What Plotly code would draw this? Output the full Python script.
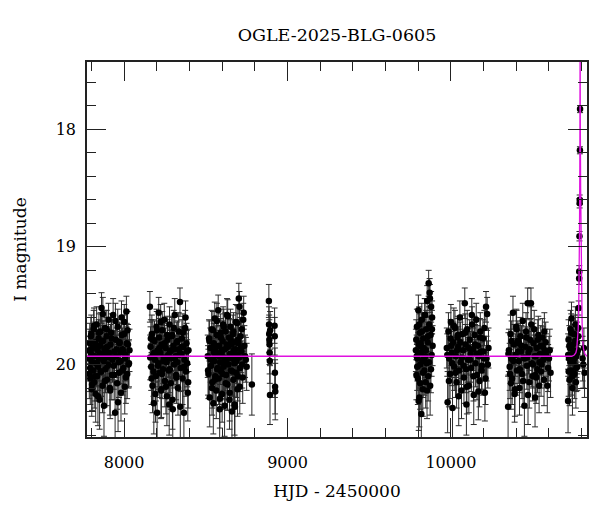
import plotly.graph_objects as go

# ---------------- data ----------------
t_2017 = [7784,7787,7790,7793,7796,7799,7802,7805,7808,7811,
          7814,7817,7820,7823,7826,7829,7832,7835,7838,7841,
          7844,7847,7850,7853,7856,7859,7862,7865,7868,7871,
          7874,7877,7880,7883,7886,7889,7892,7895,7898,7901,
          7905,7909,7913,7917,7921,7925,7929,7933,7937,7941,
          7945,7949,7953,7957,7961,7965,7969,7973,7977,7981,
          7986,7991,7996,8001,8006,8011,8016,8021,8027,8033,
          7786,7792,7797,7804,7810,7816,7822,7828,7834,7840,
          7846,7852,7858,7864,7870,7876,7882,7888,7894,7900,
          7907,7915,7923,7931,7939,7947,7955,7963,7971,7979,
          7984,7989,7994,7999,8004,8009,8014,8019,8024,8030]
mag_2017 = [19.95,20.08,19.82,20.12,19.90,19.74,20.21,19.98,19.86,20.05,
            19.70,20.15,19.93,19.81,20.25,19.99,19.66,20.10,19.88,20.02,
            19.78,19.95,20.30,19.84,19.72,20.06,19.52,19.91,20.18,19.80,
            19.97,20.35,19.87,19.69,20.04,19.92,19.76,20.13,19.85,20.00,
            19.62,19.94,20.20,19.83,19.73,20.09,19.96,19.58,20.01,19.89,
            20.41,19.79,19.93,20.16,19.68,19.98,20.07,19.81,19.90,20.24,
            19.75,19.87,20.03,19.64,19.95,20.11,19.82,19.71,20.00,19.88,
            19.88,20.03,19.76,20.17,19.93,19.67,20.10,19.84,19.99,20.27,
            19.73,19.91,20.06,19.80,19.57,19.96,20.14,19.86,19.70,20.01,
            19.90,20.22,19.78,19.94,20.09,19.63,19.87,20.32,19.82,19.97,
            19.60,20.05,19.89,19.74,20.19,19.92,19.55,20.08,19.83,19.99]
err_2017 = [0.19,0.21,0.17,0.22,0.18,0.16,0.23,0.20,0.17,0.21,
            0.16,0.22,0.19,0.17,0.24,0.19,0.15,0.21,0.18,0.20,
            0.16,0.19,0.25,0.17,0.16,0.21,0.13,0.18,0.23,0.17,
            0.19,0.26,0.18,0.15,0.20,0.18,0.16,0.22,0.17,0.20,
            0.14,0.19,0.23,0.17,0.16,0.21,0.19,0.14,0.20,0.18,
            0.27,0.17,0.18,0.22,0.15,0.19,0.21,0.17,0.18,0.24,
            0.16,0.18,0.20,0.15,0.19,0.22,0.17,0.16,0.20,0.18,
            0.18,0.20,0.16,0.22,0.19,0.15,0.21,0.17,0.20,0.25,
            0.16,0.18,0.21,0.17,0.14,0.19,0.22,0.18,0.16,0.20,
            0.18,0.24,0.16,0.19,0.21,0.15,0.18,0.25,0.17,0.19,
            0.14,0.21,0.18,0.16,0.23,0.18,0.13,0.21,0.17,0.20]

t_2018 = [8158,8162,8166,8170,8174,8178,8182,8186,8190,8194,
          8198,8202,8206,8210,8214,8218,8222,8226,8230,8234,
          8238,8242,8246,8250,8254,8258,8262,8266,8270,8274,
          8278,8282,8286,8290,8294,8298,8302,8306,8310,8314,
          8318,8322,8326,8330,8334,8338,8342,8346,8350,8354,
          8358,8362,8366,8370,8374,8378,8382,8386,8390,8394,
          8160,8168,8176,8184,8192,8200,8208,8216,8224,8232,
          8240,8248,8256,8264,8272,8280,8288,8296,8304,8312,
          8320,8328,8336,8344,8352,8360,8368,8376,8384,8392,
          8164,8180,8196,8212,8228,8244,8260,8276,8292,8308]
mag_2018 = [19.51,19.85,20.02,19.74,20.18,19.92,20.33,19.80,19.96,20.10,
            19.68,20.41,19.88,19.99,19.77,20.07,19.90,20.22,19.83,19.71,
            20.04,19.94,19.62,20.14,19.86,19.97,20.27,19.79,19.92,20.05,
            19.66,19.89,20.16,19.95,19.75,20.38,19.84,20.00,19.58,19.93,
            20.09,19.81,19.98,20.20,19.72,19.87,19.47,20.03,19.91,19.78,
            20.12,19.85,20.41,19.96,19.69,20.06,19.82,19.99,20.24,19.88,
            19.94,20.12,19.79,19.90,20.25,19.71,20.01,19.86,19.64,20.08,
            19.97,19.82,20.19,19.75,19.93,20.04,19.88,20.30,19.69,19.95,
            20.11,19.80,19.92,20.36,19.85,19.73,20.02,19.60,19.89,20.15,
            19.78,20.06,19.91,19.56,20.21,19.84,19.98,20.34,19.76,19.87]
err_2018 = [0.13,0.17,0.20,0.16,0.23,0.18,0.26,0.17,0.19,0.21,
            0.15,0.27,0.18,0.20,0.16,0.21,0.18,0.24,0.17,0.16,
            0.20,0.19,0.14,0.22,0.17,0.19,0.25,0.17,0.18,0.21,
            0.15,0.18,0.22,0.19,0.16,0.26,0.17,0.20,0.14,0.18,
            0.21,0.17,0.19,0.23,0.16,0.18,0.12,0.20,0.18,0.16,
            0.22,0.17,0.27,0.19,0.15,0.21,0.17,0.20,0.24,0.18,
            0.19,0.22,0.17,0.18,0.24,0.16,0.20,0.17,0.15,0.21,
            0.19,0.17,0.23,0.16,0.18,0.20,0.18,0.25,0.15,0.19,
            0.22,0.17,0.18,0.26,0.17,0.16,0.20,0.14,0.18,0.22,
            0.16,0.21,0.18,0.13,0.24,0.17,0.19,0.26,0.16,0.18]

t_2019 = [8512,8516,8520,8524,8528,8532,8536,8540,8543,8546,
          8549,8552,8555,8558,8561,8564,8567,8570,8573,8576,
          8579,8582,8585,8588,8591,8594,8597,8600,8603,8606,
          8609,8612,8615,8618,8621,8624,8627,8630,8633,8636,
          8639,8642,8645,8648,8651,8654,8657,8660,8663,8666,
          8669,8672,8675,8678,8681,8684,8687,8690,8694,8698,
          8702,8706,8710,8715,8720,8726,8732,8740,8750,8782,
          8514,8522,8530,8538,8544,8550,8556,8562,8568,8574,
          8580,8586,8592,8598,8604,8610,8616,8622,8628,8634,
          8640,8646,8652,8658,8664,8670,8676,8682,8688,8692,
          8696,8700,8704,8708,8712,8717,8723,8729,8736,8745]
mag_2019 = [19.93,20.08,19.78,20.28,19.86,20.01,19.70,20.15,19.95,20.33,
            19.82,19.97,19.61,20.10,19.89,20.22,19.75,20.04,19.92,19.54,
            20.12,19.84,20.38,19.98,19.73,20.06,19.90,20.25,19.80,19.66,
            20.02,19.94,20.35,19.87,19.72,20.09,19.96,19.58,20.17,19.85,
            20.00,19.77,20.30,19.91,19.68,20.05,19.83,20.40,19.95,19.74,
            20.13,19.88,19.99,20.36,19.81,19.64,20.07,19.92,20.21,19.79,
            19.44,19.51,20.03,19.86,19.70,20.11,19.56,19.93,20.02,20.17,
            20.05,19.80,19.96,20.20,19.71,19.90,20.13,19.85,19.63,20.03,
            19.93,20.29,19.77,19.88,20.08,19.68,19.98,20.16,19.83,19.59,
            19.95,20.24,19.79,19.91,20.06,19.72,20.34,19.87,19.97,19.65,
            20.10,19.82,19.94,20.19,19.76,19.89,20.00,19.62,19.84,19.96]
err_2019 = [0.18,0.21,0.16,0.25,0.17,0.20,0.16,0.22,0.19,0.26,
            0.17,0.19,0.14,0.21,0.18,0.24,0.16,0.20,0.18,0.13,
            0.22,0.17,0.26,0.19,0.16,0.21,0.18,0.24,0.17,0.15,
            0.20,0.19,0.26,0.18,0.16,0.21,0.19,0.14,0.22,0.17,
            0.20,0.16,0.25,0.18,0.15,0.21,0.17,0.27,0.19,0.16,
            0.22,0.18,0.20,0.26,0.17,0.15,0.21,0.18,0.23,0.17,
            0.13,0.13,0.20,0.17,0.16,0.22,0.14,0.18,0.20,0.26,
            0.21,0.17,0.19,0.23,0.16,0.18,0.22,0.17,0.15,0.20,
            0.18,0.25,0.16,0.18,0.21,0.15,0.19,0.22,0.17,0.14,
            0.19,0.24,0.17,0.18,0.21,0.16,0.26,0.18,0.19,0.15,
            0.21,0.17,0.19,0.23,0.16,0.18,0.20,0.14,0.17,0.19]

t_2020 = [8886,8887,8888,8889,8890,8891,8892,8893,8894,8921,8922,8923,8924,8925]
mag_2020 = [19.46,19.66,19.74,19.79,19.83,19.90,19.97,20.26,19.71,19.67,19.76,20.07,20.19,20.23]
err_2020 = [0.14,0.15,0.16,0.17,0.17,0.18,0.19,0.25,0.16,0.15,0.16,0.21,0.23,0.24]

t_2022 = [9786,9789,9792,9795,9798,9801,9804,9807,9810,9813,
          9816,9819,9822,9825,9828,9831,9834,9837,9840,9843,
          9846,9849,9852,9855,9858,9861,9864,9867,9870,9873,
          9876,9879,9882,9885,9888,
          9788,9794,9800,9806,9812,9818,9824,9830,9836,9842,
          9848,9854,9860,9866,9872,9878,9884,9791,9803,9815]
mag_2022 = [19.88,20.09,19.68,19.95,20.12,19.54,19.83,20.28,19.73,20.00,
            19.90,20.42,19.62,19.97,20.21,19.78,19.86,20.05,19.58,19.93,
            20.15,19.70,19.99,19.46,19.81,20.10,19.31,19.66,19.39,20.18,
            19.75,19.51,19.92,19.60,19.84,
            19.79,20.02,19.91,19.66,20.16,19.85,19.72,20.07,19.95,19.58,
            19.88,20.22,19.76,19.98,19.44,20.04,19.70,19.93,20.31,19.82]
err_2022 = [0.18,0.21,0.15,0.19,0.22,0.13,0.17,0.25,0.16,0.20,
            0.18,0.27,0.14,0.19,0.23,0.16,0.17,0.21,0.14,0.18,
            0.22,0.16,0.20,0.13,0.17,0.21,0.11,0.15,0.12,0.25,
            0.16,0.13,0.18,0.14,0.17,
            0.17,0.20,0.18,0.15,0.22,0.17,0.16,0.21,0.19,0.14,
            0.18,0.24,0.16,0.19,0.12,0.20,0.16,0.18,0.25,0.17]

t_2023 = [9975,9980,9985,9990,9995,10000,10005,10010,10015,10020,
          10025,10030,10035,10040,10045,10050,10055,10060,10065,10070,
          10075,10080,10085,10090,10095,10100,10105,10110,10115,10120,
          10125,10130,10135,10140,10145,10150,10155,10160,10165,10170,
          10175,10180,10185,10190,10196,10202,10208,10215,10222,10230,
          9978,9988,9998,10008,10018,10028,10038,10048,10058,10068,
          10078,10088,10098,10108,10118,10128,10138,10148,10158,10168,
          10178,10188,10199,10205,10212,10218,10226,10003,10043,10093]
mag_2023 = [19.86,20.32,19.72,19.95,20.08,19.64,19.90,20.37,19.81,20.02,
            19.69,19.93,20.15,19.77,19.85,20.05,19.60,19.98,20.22,19.74,
            19.88,20.11,19.48,19.83,20.34,19.70,19.96,20.18,19.79,19.91,
            20.03,19.66,19.87,20.26,19.75,19.99,19.62,20.09,19.84,19.93,
            20.14,19.72,19.89,20.01,19.78,19.95,20.24,19.51,19.57,19.86,
            19.92,20.14,19.78,19.99,19.67,20.07,19.88,20.27,19.81,19.94,
            20.01,19.73,20.19,19.86,19.96,19.58,20.10,19.83,19.91,20.23,
            19.77,20.05,19.89,19.69,20.12,19.95,20.00,19.84,19.75,20.04]
err_2023 = [0.17,0.26,0.16,0.19,0.21,0.15,0.18,0.26,0.17,0.20,
            0.15,0.18,0.22,0.16,0.17,0.21,0.14,0.19,0.24,0.16,
            0.18,0.22,0.13,0.17,0.26,0.16,0.19,0.23,0.17,0.18,
            0.20,0.15,0.18,0.25,0.16,0.20,0.14,0.21,0.17,0.18,
            0.22,0.16,0.18,0.20,0.16,0.19,0.24,0.13,0.14,0.17,
            0.18,0.22,0.16,0.19,0.15,0.21,0.18,0.25,0.17,0.18,
            0.20,0.16,0.23,0.17,0.19,0.14,0.21,0.17,0.18,0.24,
            0.16,0.21,0.18,0.15,0.22,0.19,0.20,0.17,0.16,0.20]

t_2024 = [10350,10355,10360,10365,10370,10375,10380,10385,10390,10395,
          10400,10405,10410,10415,10420,10425,10430,10435,10440,10445,
          10450,10455,10460,10465,10470,10475,10480,10485,10490,10495,
          10500,10505,10510,10515,10520,10525,10530,10535,10540,10545,
          10550,10555,10560,10565,10570,10575,10580,10590,10600,10610,
          10352,10362,10372,10382,10392,10402,10412,10422,10432,10442,
          10452,10462,10472,10482,10492,10502,10512,10522,10532,10542,
          10552,10562,10572,10582,10595,10605,10367,10417,10467,10517]
mag_2024 = [20.36,19.88,20.02,19.74,19.95,20.12,19.56,19.83,20.25,19.92,
            19.68,20.05,19.80,19.97,20.20,19.76,19.89,20.08,19.63,19.94,
            20.35,19.85,19.72,20.01,19.48,19.90,20.15,19.79,19.48,19.99,
            20.10,19.82,19.70,20.28,19.93,19.86,20.04,19.75,20.18,19.91,
            19.84,20.00,19.77,19.96,20.13,19.88,19.81,20.18,19.95,20.07,
            19.91,20.08,19.80,19.97,20.21,19.70,19.89,20.04,19.84,20.14,
            19.95,19.77,20.26,19.87,19.66,20.00,19.93,20.11,19.79,19.98,
            20.06,19.85,19.72,19.92,20.03,19.88,20.16,19.82,19.94,20.09]
err_2024 = [0.26,0.18,0.20,0.16,0.19,0.22,0.14,0.17,0.24,0.18,
            0.15,0.21,0.17,0.19,0.23,0.16,0.18,0.21,0.15,0.19,
            0.26,0.17,0.16,0.20,0.13,0.18,0.22,0.17,0.13,0.20,
            0.21,0.17,0.16,0.25,0.18,0.17,0.20,0.16,0.23,0.18,
            0.17,0.20,0.16,0.19,0.22,0.18,0.17,0.23,0.19,0.21,
            0.18,0.21,0.17,0.19,0.23,0.16,0.18,0.20,0.17,0.22,
            0.19,0.16,0.25,0.18,0.15,0.20,0.18,0.22,0.17,0.19,
            0.21,0.17,0.16,0.18,0.20,0.18,0.22,0.17,0.19,0.21]

t_2025 = [10717,10720,10723,10726,10729,10732,10735,10738,10741,10744,
          10747,10750,10753,10756,10759,10762,10765,10768,10771,10774,
          10777,10780,10806,10810,10814,10818,
          10718,10721,10725,10731,10737,10743,10749,10755,10761,10767,10773,10779]
mag_2025 = [20.31,19.79,19.95,20.13,19.86,19.70,20.05,19.61,19.92,20.20,
            19.83,19.98,19.74,20.08,19.89,19.66,20.15,19.93,19.81,20.02,
            19.88,19.76,19.95,20.00,19.86,20.07,
            19.92,20.06,19.84,19.98,19.73,20.10,19.88,19.95,19.80,20.03,19.90,19.69]
err_2025 = [0.27,0.17,0.19,0.22,0.17,0.16,0.21,0.14,0.18,0.23,
            0.17,0.19,0.16,0.21,0.18,0.15,0.22,0.18,0.17,0.20,
            0.18,0.16,0.19,0.20,0.17,0.21,
            0.18,0.21,0.17,0.19,0.16,0.22,0.18,0.19,0.17,0.20,0.18,0.15]

t_peak = [10782.0,10785.0,10785.5,10787.0,10788.0,10788.3,10789.6,10790.5]
mag_peak = [19.52,19.27,19.21,18.91,18.63,18.60,18.18,17.83]
err_peak = [0.06,0.05,0.05,0.04,0.04,0.04,0.03,0.03]

# microlensing model curve
model_t = [7773,10740,10755,10765,10770,10775,10779,10782,10785,10787,10789,
           10790,10790.6,10791,10791.4,10792,10794,10797,10800,10803,10807,10812,10820,10833]
model_mag = [19.93,19.93,19.92,19.90,19.87,19.80,19.70,19.55,19.25,18.90,18.35,
             17.95,17.55,17.20,17.55,17.95,18.50,19.00,19.40,19.65,19.80,19.87,19.91,19.93]

title_text = "OGLE-2025-BLG-0605"
x_label = "HJD - 2450000"
y_label = "I magnitude"
x_range = [7773, 10833]
y_range = [20.616, 17.43]

# ---------------- figure ----------------
t_all = t_2017 + t_2018 + t_2019 + t_2020 + t_2022 + t_2023 + t_2024 + t_2025 + t_peak
m_all = mag_2017 + mag_2018 + mag_2019 + mag_2020 + mag_2022 + mag_2023 + mag_2024 + mag_2025 + mag_peak
e_all = err_2017 + err_2018 + err_2019 + err_2020 + err_2022 + err_2023 + err_2024 + err_2025 + err_peak

FONT = "DejaVu Serif"
# the page body has an 8px default margin, so the figure is sized to fit the window
FIG_W, FIG_H = 592, 504

fig = go.Figure()
fig.add_trace(go.Scatter(
    x=t_all, y=m_all, mode="markers",
    marker=dict(color="black", size=6.5, line=dict(width=0)),
    error_y=dict(type="data", array=e_all, visible=True,
                 color="#2a2a2a", thickness=1, width=3),
    showlegend=False, cliponaxis=True,
))
fig.add_trace(go.Scatter(
    x=model_t, y=model_mag, mode="lines",
    line=dict(color="#e010e0", width=1.3),
    showlegend=False,
))

axis_common = dict(
    showgrid=False, zeroline=False, showline=True, linecolor="#222",
    linewidth=1.5, mirror="ticks", ticks="inside", ticklen=19,
    tickwidth=1, tickcolor="#222", automargin=False, tickformat="d",
    tickfont=dict(family=FONT, size=16, color="black"),
)

fig.update_layout(
    width=FIG_W, height=FIG_H,
    margin=dict(l=79, r=13, t=54, b=75),
    paper_bgcolor="white", plot_bgcolor="white",
    title=dict(text=title_text, x=0.5, xref="paper", xanchor="center",
               y=1 - 27 / FIG_H, yref="container", yanchor="middle",
               font=dict(family=FONT, size=17.5, color="black"),
               automargin=False),
    xaxis=dict(range=x_range, dtick=1000, tick0=0,
               minor=dict(dtick=200, ticklen=9, ticks="inside", tickcolor="#222", tickwidth=1),
               ticklabelstandoff=10,
               title=dict(text=x_label, standoff=14,
                          font=dict(family=FONT, size=17, color="black")),
               **axis_common),
    yaxis=dict(range=y_range, dtick=1, tick0=0,
               minor=dict(dtick=0.2, ticklen=9, ticks="inside", tickcolor="#222", tickwidth=1),
               ticklabelstandoff=6,
               title=dict(text=y_label, standoff=25,
                          font=dict(family=FONT, size=17, color="black")),
               **axis_common),
)

fig.write_html("out.html")
